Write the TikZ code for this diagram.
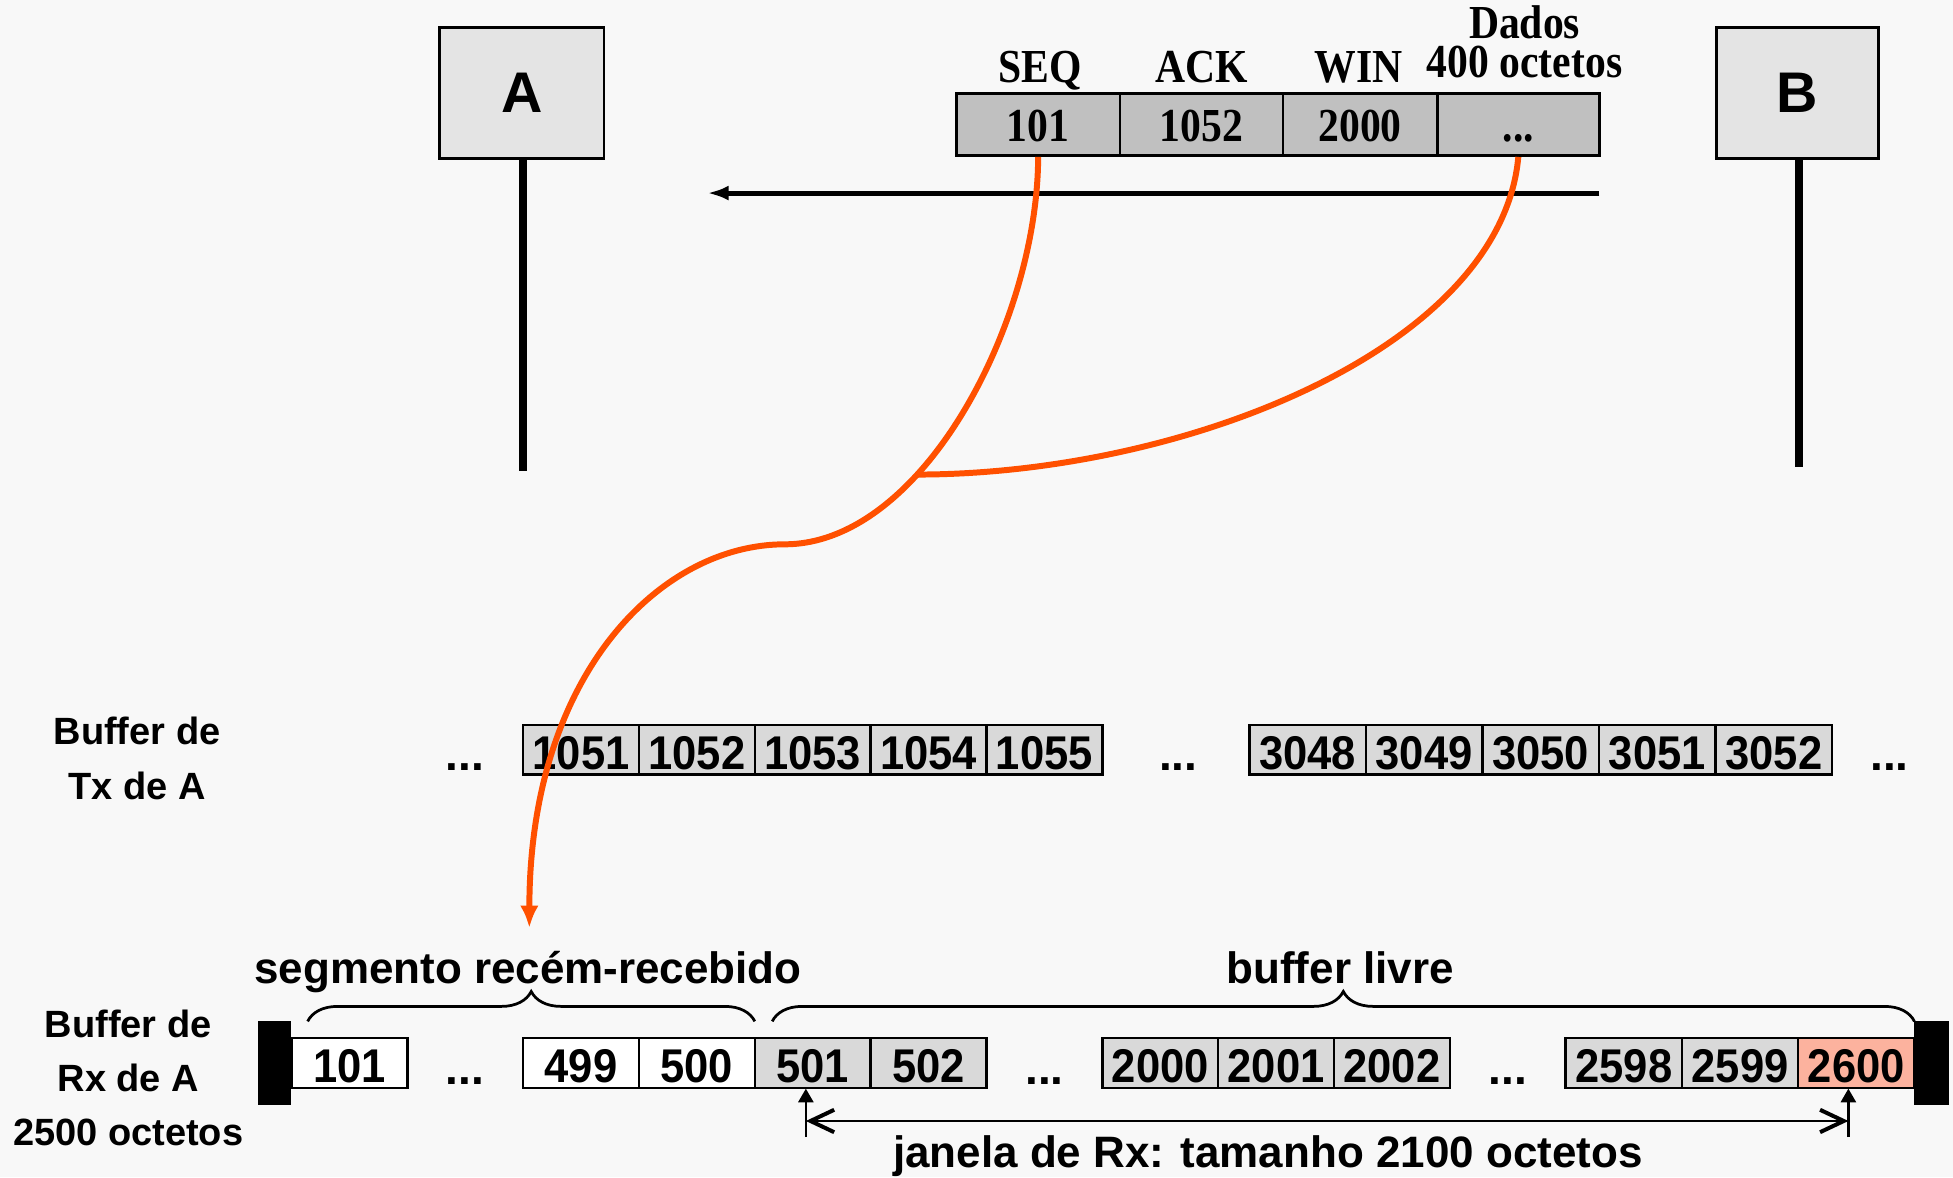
\documentclass[tikz,border=0pt]{standalone}
\usepackage{fontspec}
\setmainfont{Liberation Serif}
\newfontfamily\lsans{Liberation Sans}
\newfontfamily\lsansnarrow[FakeStretch=0.92]{Liberation Sans}
\newfontfamily\lserifnarrow[FakeStretch=0.88]{Liberation Serif}
\usetikzlibrary{arrows.meta,decorations.pathreplacing}
\definecolor{bgc}{RGB}{248,248,248}
\definecolor{boxfill}{RGB}{228,228,228}
\definecolor{hdrfill}{RGB}{192,192,192}
\definecolor{cellgray}{RGB}{217,217,217}
\definecolor{cellred}{RGB}{252,178,158}
\definecolor{flow}{RGB}{255,80,0}
\begin{document}
\begin{tikzpicture}[x=1pt,y=-1pt,
  station/.style={draw, line width=2.2pt, fill=boxfill, minimum width=132pt,
    minimum height=105pt, inner sep=0pt,
    font=\lsans\bfseries\fontsize{46}{50}\selectfont},
  lifeline/.style={line width=6.5pt},
  hcell/.style={draw, line width=2pt, fill=hdrfill, minimum height=50pt,
    inner sep=0pt, text height=28pt, text depth=0pt,
    font=\lserifnarrow\bfseries\fontsize{38}{42}\selectfont},
  hlabel/.style={anchor=base, inner sep=0pt,
    font=\lserifnarrow\bfseries\fontsize{38}{42}\selectfont},
  cell/.style={draw, line width=2pt, minimum width=93pt, minimum height=40pt,
    inner sep=0pt, text height=31pt, text depth=0pt,
    font=\lsansnarrow\bfseries\fontsize{38}{40}\selectfont},
  dots/.style={anchor=base, inner sep=0pt,
    font=\lsans\bfseries\fontsize{37}{40}\selectfont},
  sidelabel/.style={anchor=base, inner sep=0pt,
    font=\lsans\bfseries\fontsize{30.5}{36}\selectfont},
  biglabel/.style={anchor=base, inner sep=0pt,
    font=\lsans\bfseries\fontsize{35.3}{40}\selectfont},
  bracket/.style={decorate, decoration={brace, amplitude=24pt}, line width=2.2pt},
  flowline/.style={draw=flow, line width=4.8pt},
  endbar/.style={fill=black},
]
% background
\fill[bgc] (0,0) rectangle (1568,945);

% stations and their lifelines
\coordinate (Aend) at (420,378);
\coordinate (Bend) at (1444,375);
\draw[lifeline] (420,127) -- (Aend);
\draw[lifeline] (1444,127) -- (Bend);
\node[station] (A) at (419,74.5) {A};
\node[station, minimum width=130pt] (B) at (1443,74.5) {B};

% segment header sent from B to A
\node[hcell, minimum width=131pt] (hseq) at (833.5,100) {101};
\node[hcell, minimum width=131pt] (hack) at (964.5,100) {1052};
\node[hcell, minimum width=124pt] (hwin) at (1092,100) {2000};
\node[hcell, minimum width=130pt] (hdat) at (1219,100) {...};
\node[hlabel] (lseq) at (835,66) {SEQ};
\node[hlabel] (lack) at (965,66) {ACK};
\node[hlabel] (lwin) at (1091,66) {WIN};
\node[hlabel] (ldat1) at (1224,31) {Dados};
\node[hlabel] (ldat2) at (1224,62) {400 octetos};

% transmission direction
\coordinate (segstart) at (1284,155);
\coordinate (segend) at (568,155);
\draw[line width=4pt, -{Latex[length=17pt,width=12pt]}] (segstart) -- (segend);

% transmit buffer of A
\node[sidelabel] (tx1) at (110,598) {Buffer de};
\node[sidelabel] (tx2) at (110,642) {Tx de A};
\node[dots] (td1) at (373,619) {...};
\foreach \v [count=\i from 0] in {1051,...,1055}
  \node[cell, fill=cellgray] (t\v) at (466.5+93*\i,602) {\v};
\node[dots] (td2) at (946,619) {...};
\foreach \v [count=\i from 0] in {3048,...,3052}
  \node[cell, fill=cellgray, minimum width=93.6pt] (t\v) at (1049.8+93.6*\i,602) {\v};
\node[dots] (td3) at (1517,619) {...};

% receive buffer of A
\node[sidelabel] (rx1) at (103,833) {Buffer de};
\node[sidelabel] (rx2) at (103,876) {Rx de A};
\node[sidelabel] (rx3) at (103,920) {2500 octetos};
\fill[endbar] (207,820) rectangle (234,887);
\fill[endbar] (1537,820) rectangle (1565,887);
\node[cell, fill=white] (r101) at (280.5,853.5) {101};
\node[dots] (rd1) at (373,871) {...};
\node[cell, fill=white] (r499) at (466.5,853.5) {499};
\node[cell, fill=white] (r500) at (559.5,853.5) {500};
\node[cell, fill=cellgray] (r501) at (652.5,853.5) {501};
\node[cell, fill=cellgray] (r502) at (745.5,853.5) {502};
\node[dots] (rd2) at (838.5,871) {...};
\node[cell, fill=cellgray] (r2000) at (931.5,853.5) {2000};
\node[cell, fill=cellgray] (r2001) at (1024.5,853.5) {2001};
\node[cell, fill=cellgray] (r2002) at (1117.5,853.5) {2002};
\node[dots] (rd3) at (1210.5,871) {...};
\node[cell, fill=cellgray, minimum width=93.3pt] (r2598) at (1303.7,853.5) {2598};
\node[cell, fill=cellgray, minimum width=93.3pt] (r2599) at (1397,853.5) {2599};
\node[cell, fill=cellred, minimum width=93.3pt] (r2600) at (1490.3,853.5) {2600};

% braces over the receive buffer
\coordinate (b1l) at (247,820);
\coordinate (b1r) at (606,820);
\coordinate (b2l) at (620,820);
\coordinate (b2r) at (1537,820);
\draw[bracket] (b1l) -- (b1r);
\draw[bracket] (b2l) -- (b2r);
\node[biglabel] (segrec) at (424,790) {segmento recém-recebido};
\node[biglabel] (livre) at (1076,790) {buffer livre};

% receive window
\coordinate (w1) at (647,900);
\coordinate (w2) at (1484,900);
\coordinate (w1b) at (647,913);
\coordinate (w2b) at (1484,913);
\coordinate (w1t) at (647,874);
\coordinate (w2t) at (1484,874);
\draw[line width=2.4pt, {Straight Barb[length=19pt,width=18pt,line width=3.2pt]}-{Straight Barb[length=19pt,width=18pt,line width=3.2pt]}] (w1) -- (w2);
\draw[line width=2.2pt, -{Triangle[length=11pt,width=12pt]}] (w1b) -- (w1t);
\draw[line width=2.2pt, -{Triangle[length=11pt,width=12pt]}] (w2b) -- (w2t);
\node[biglabel] (janela) at (1018,937) {janela de Rx: tamanho 2100 octetos};

% mapping of the segment into the receive buffer
\coordinate (join) at (736,381);
\coordinate (bend) at (630,437);
\coordinate (landing) at (425,745);
\draw[flowline] (hdat.south) .. controls (1205,280) and (950,381) .. (join);
\draw[flowline, -{Latex[length=18pt,width=15pt]}] (hseq.south)
  .. controls (833,260) and (740,437) .. (bend)
  .. controls (530,437) and (425,542) .. (landing);
\end{tikzpicture}
\end{document}
